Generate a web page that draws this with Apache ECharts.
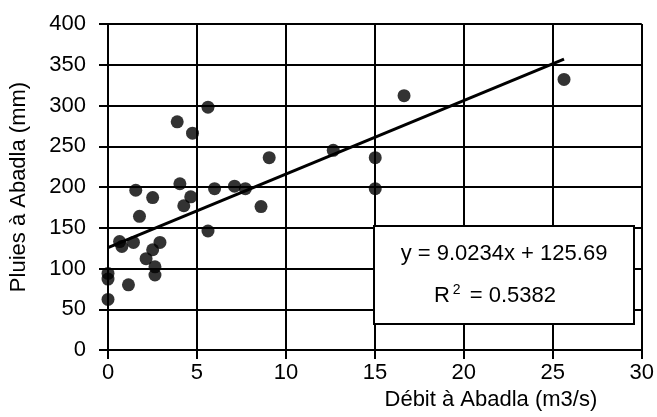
<!DOCTYPE html>
<html>
<head>
<meta charset="utf-8">
<script src="https://cdn.jsdelivr.net/npm/echarts@6/dist/echarts.min.js"></script>
<style>
  html, body { margin: 0; padding: 0; background: #fff; }
  #chart { width: 657px; height: 417px; }
</style>
</head>
<body>
<div id="chart"></div>
<script>
// Débit (m3/s) vs pluies (mm) à Abadla
const debit = [5.62, 3.89, 4.75, 9.06, 1.56, 4.04, 2.51, 4.65, 4.26, 5.99, 7.11, 7.72, 8.6,
  1.77, 5.62, 0.65, 0.78, 1.43, 2.92, 2.51, 2.14, 2.64, 2.64, 0, 0, 1.15, 0,
  16.64, 25.63, 12.66, 15.02, 15.02];
const pluies = [298, 280, 266, 236, 196, 204, 187, 188, 177, 198, 201, 198, 176,
  164, 146, 133, 127, 132, 132, 123, 112, 102, 92, 94, 87, 80, 62,
  312, 332, 245, 236, 198];
const xTicks = [0, 5, 10, 15, 20, 25, 30];
const yTicks = [0, 50, 100, 150, 200, 250, 300, 350, 400];
const slope = 9.0234;
const intercept = 125.69;
const r2 = 0.5382;

const font = "'Liberation Sans', Arial, sans-serif";
const points = debit.map((d, i) => [d, pluies[i]]);
const xMax = Math.max(...debit);
const trend = [[0, intercept], [xMax, slope * xMax + intercept]];

const chart = echarts.init(document.getElementById('chart'));
chart.setOption({
  backgroundColor: '#fff',
  animation: false,
  textStyle: { fontFamily: font },
  grid: { left: 106, right: 14, top: 24, bottom: 67 },
  xAxis: {
    type: 'value',
    min: xTicks[0],
    max: xTicks[xTicks.length - 1],
    interval: 5,
    name: 'Débit à Abadla (m3/s)',
    nameLocation: 'middle',
    nameGap: 38,
    nameTextStyle: { color: '#000', fontSize: 22, fontFamily: font, padding: [0, 0, 0, 232] },
    axisLine: { lineStyle: { color: '#000', width: 2 } },
    axisTick: { show: true, inside: false, length: 9, lineStyle: { color: '#000', width: 2 } },
    axisLabel: { color: '#000', fontSize: 22, fontFamily: font, margin: 12 },
    splitLine: { show: true, lineStyle: { color: '#000', width: 2 } }
  },
  yAxis: {
    type: 'value',
    min: yTicks[0],
    max: yTicks[yTicks.length - 1],
    interval: 50,
    name: 'Pluies à Abadla (mm)',
    nameLocation: 'middle',
    nameGap: 78,
    nameTextStyle: { color: '#000', fontSize: 22, fontFamily: font },
    axisLine: { show: true, lineStyle: { color: '#000', width: 2 } },
    axisTick: { show: true, inside: false, length: 9, lineStyle: { color: '#000', width: 2 } },
    axisLabel: { color: '#000', fontSize: 22, fontFamily: font, margin: 22 },
    splitLine: { show: true, lineStyle: { color: '#000', width: 2 } }
  },
  series: [
    {
      type: 'scatter',
      data: points,
      symbol: 'circle',
      symbolSize: 13,
      itemStyle: { color: '#000' },
      z: 3
    },
    {
      type: 'line',
      data: trend,
      symbol: 'none',
      lineStyle: { color: '#000', width: 3 },
      z: 4
    }
  ],
  graphic: [
    {
      type: 'rect',
      left: 373,
      top: 225,
      z: 100,
      shape: { width: 260, height: 98 },
      style: { fill: '#fff', stroke: '#000', lineWidth: 2 }
    },
    {
      type: 'text',
      x: 504,
      y: 254,
      z: 101,
      style: {
        text: 'y = ' + slope.toFixed(4) + 'x + ' + intercept.toFixed(2),
        font: '22px ' + font,
        fill: '#000',
        align: 'center',
        verticalAlign: 'middle'
      }
    },
    {
      type: 'text',
      x: 495,
      y: 295,
      z: 101,
      style: {
        text: '{b|R}{s|2}{b| = ' + r2.toFixed(4) + '}',
        align: 'center',
        verticalAlign: 'middle',
        rich: {
          b: { font: '22px ' + font, fill: '#000', verticalAlign: 'bottom' },
          s: { font: '14px ' + font, fill: '#000', verticalAlign: 'top', padding: [0, 3, 10, 3] }
        }
      }
    }
  ]
});
</script>
</body>
</html>
